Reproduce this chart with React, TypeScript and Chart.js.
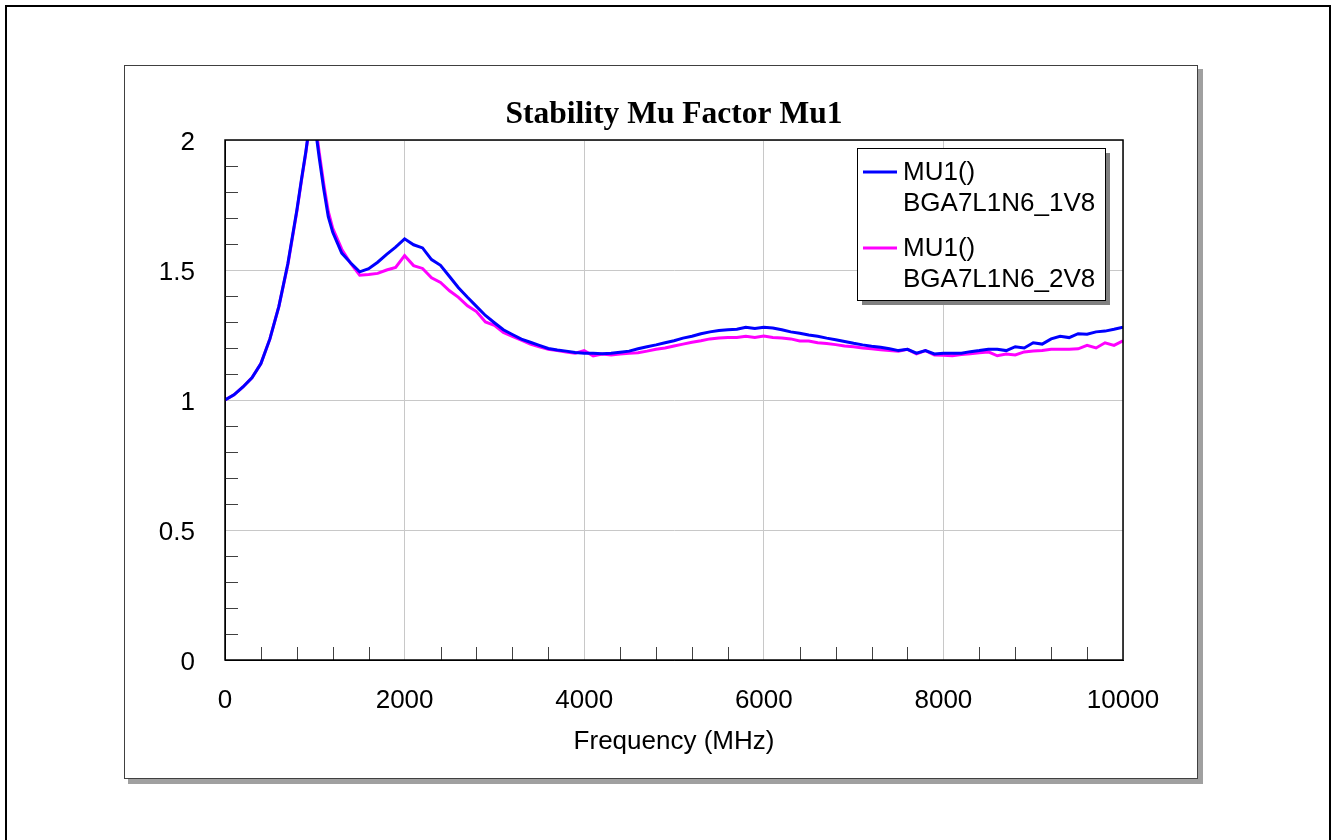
import React, { useEffect, useRef } from "react";
import { Chart, registerables } from "chart.js";

Chart.register(...registerables);

// ---- data ----
const freqMHz = [
  0, 100, 200, 300, 400, 500, 600, 700, 800,
  850, 900, 950, 1000, 1050, 1100, 1150, 1200,
  1300, 1400, 1500, 1600, 1700, 1800, 1900, 2000, 2100, 2200,
  2300, 2400, 2500, 2600, 2700, 2800, 2900, 3000, 3100, 3200,
  3300, 3400, 3500, 3600, 3700, 3800, 3900, 4000, 4100, 4200,
  4300, 4400, 4500, 4600, 4700, 4800, 4900, 5000, 5100, 5200,
  5300, 5400, 5500, 5600, 5700, 5800, 5900, 6000, 6100, 6200,
  6300, 6400, 6500, 6600, 6700, 6800, 6900, 7000, 7100, 7200,
  7300, 7400, 7500, 7600, 7700, 7800, 7900, 8000, 8100, 8200,
  8300, 8400, 8500, 8600, 8700, 8800, 8900, 9000, 9100, 9200,
  9300, 9400, 9500, 9600, 9700, 9800, 9900, 10000,
];

const mu1V8 = [
  1.0, 1.02, 1.05, 1.085, 1.14, 1.235, 1.36, 1.525, 1.73,
  1.845, 1.955, 2.08, 2.06, 1.93, 1.81, 1.705, 1.645,
  1.565, 1.527, 1.493, 1.505, 1.53, 1.56, 1.588, 1.62, 1.597, 1.585,
  1.54, 1.518, 1.475, 1.432, 1.395, 1.36, 1.325, 1.297, 1.27, 1.252,
  1.234, 1.222, 1.21, 1.198, 1.192, 1.188, 1.183, 1.18, 1.18, 1.178,
  1.18, 1.184, 1.188, 1.197, 1.205, 1.212, 1.22, 1.228, 1.238, 1.245,
  1.255, 1.262, 1.267, 1.27, 1.272, 1.28, 1.275, 1.28, 1.277, 1.27,
  1.262, 1.257, 1.25, 1.245, 1.238, 1.232, 1.225, 1.218, 1.212, 1.207,
  1.203, 1.197, 1.19, 1.195, 1.18, 1.19, 1.177, 1.18, 1.18, 1.18,
  1.186, 1.19, 1.195, 1.195, 1.19, 1.205, 1.2, 1.22, 1.215, 1.235,
  1.245, 1.24, 1.255, 1.253, 1.262, 1.265, 1.272, 1.28,
];

const mu2V8 = [
  1.0, 1.02, 1.05, 1.085, 1.14, 1.235, 1.36, 1.52, 1.725,
  1.84, 1.95, 2.08, 2.08, 1.95, 1.83, 1.725, 1.66,
  1.58, 1.525, 1.48, 1.483, 1.487, 1.5, 1.51, 1.555, 1.517, 1.506,
  1.47, 1.452, 1.42, 1.395, 1.362, 1.34, 1.3, 1.287, 1.26, 1.245,
  1.23, 1.215, 1.205, 1.195, 1.19, 1.185, 1.18, 1.19, 1.17, 1.177,
  1.173, 1.177, 1.18, 1.182, 1.188, 1.195, 1.2, 1.208, 1.215, 1.222,
  1.228, 1.235, 1.238, 1.24, 1.24, 1.245, 1.24, 1.246, 1.24, 1.238,
  1.235, 1.227, 1.227, 1.22, 1.217, 1.213, 1.208, 1.205, 1.2, 1.197,
  1.193, 1.19, 1.188, 1.195, 1.177, 1.19, 1.173, 1.172, 1.17, 1.175,
  1.178, 1.182, 1.185, 1.17, 1.177, 1.173, 1.185, 1.188, 1.19, 1.195,
  1.195, 1.195, 1.197, 1.21, 1.2, 1.22, 1.21, 1.228,
];

const seriesNames = [
  ["MU1()", "BGA7L1N6_1V8"],
  ["MU1()", "BGA7L1N6_2V8"],
];
const seriesColors = ["#0000ff", "#ff00ff"];

const chartTitle = "Stability Mu Factor Mu1";
const xAxisTitle = "Frequency (MHz)";
const xMin = 0;
const xMax = 10000;
const xMajorStep = 2000;
const xMinorStep = 400;
const yMin = 0;
const yMax = 2;
const yMajorStep = 0.5;
const yMinorStep = 0.1;

const SANS = '"Liberation Sans", Arial, Helvetica, sans-serif';
const SERIF = '"Liberation Serif", "Times New Roman", serif';
const TEXT_SIZE = 26;

const framePlugin = {
  id: "frames",
  beforeDraw(chart: any) {
    const ctx = chart.ctx;
    ctx.save();
    ctx.fillStyle = "#ffffff";
    ctx.fillRect(0, 0, chart.width, chart.height);
    // outer black frame
    ctx.strokeStyle = "#000000";
    ctx.lineWidth = 2;
    ctx.strokeRect(6, 6, 1324, 860);
    // inner panel shadow
    ctx.fillStyle = "#a0a0a0";
    ctx.fillRect(128, 69, 1075, 715);
    ctx.fillStyle = "#ffffff";
    ctx.fillRect(124, 65, 1074, 714);
    ctx.strokeStyle = "#404040";
    ctx.lineWidth = 1;
    ctx.strokeRect(124.5, 65.5, 1073, 713);
    ctx.restore();
  },
  afterDatasetsDraw(chart: any) {
    const ctx = chart.ctx;
    const { left, right, top, bottom } = chart.chartArea;
    const xs = chart.scales.x;
    const ys = chart.scales.y;
    ctx.save();
    ctx.strokeStyle = "#404040";
    ctx.lineWidth = 1;
    ctx.beginPath();
    const tickLen = 13;
    for (let v = xMin + xMinorStep; v < xMax; v += xMinorStep) {
      if (Math.abs(v % xMajorStep) < 1e-6) continue;
      const px = Math.round(xs.getPixelForValue(v)) + 0.5;
      ctx.moveTo(px, bottom);
      ctx.lineTo(px, bottom - tickLen);
    }
    for (let i = 1; i < Math.round((yMax - yMin) / yMinorStep); i++) {
      const v = yMin + i * yMinorStep;
      if (i % Math.round(yMajorStep / yMinorStep) === 0) continue;
      const py = Math.round(ys.getPixelForValue(v)) + 0.5;
      ctx.moveTo(left, py);
      ctx.lineTo(left + tickLen, py);
    }
    ctx.stroke();
    // plot frame
    ctx.strokeStyle = "#000000";
    ctx.lineWidth = 1.5;
    ctx.strokeRect(Math.round(left), Math.round(top), Math.round(right - left), Math.round(bottom - top));
    ctx.restore();
  },
  afterDraw(chart: any) {
    const ctx = chart.ctx;
    const bx = 857, by = 148, bw = 248, bh = 152;
    ctx.save();
    ctx.fillStyle = "#808080";
    ctx.fillRect(bx + 5, by + 5, bw, bh);
    ctx.fillStyle = "#ffffff";
    ctx.fillRect(bx, by, bw, bh);
    ctx.strokeStyle = "#000000";
    ctx.lineWidth = 1;
    ctx.strokeRect(bx + 0.5, by + 0.5, bw, bh);
    ctx.font = `${TEXT_SIZE}px ${SANS}`;
    ctx.textBaseline = "middle";
    ctx.textAlign = "left";
    chart.data.datasets.forEach((ds: any, i: number) => {
      const y0 = 172 + i * 76;
      ctx.strokeStyle = ds.borderColor;
      ctx.lineWidth = 3;
      ctx.beginPath();
      ctx.moveTo(863, y0);
      ctx.lineTo(897, y0);
      ctx.stroke();
      ctx.fillStyle = "#000000";
      seriesNames[i].forEach((line, j) => {
        ctx.fillText(line, 903, y0 + 1 + j * 31);
      });
    });
    ctx.restore();
  },
};

export default function App() {
  const ref = useRef<HTMLCanvasElement | null>(null);
  useEffect(() => {
    if (!ref.current) return;
    const chart = new Chart(ref.current, {
      type: "line",
      data: {
        datasets: [0, 1].map((i) => ({
          label: seriesNames[i].join(" "),
          data: freqMHz.map((f, k) => ({ x: f, y: (i === 0 ? mu1V8 : mu2V8)[k] })),
          borderColor: seriesColors[i],
          backgroundColor: seriesColors[i],
          borderWidth: 3,
          pointRadius: 0,
          tension: 0,
          fill: false,
        })),
      },
      options: {
        animation: false,
        responsive: false,
        events: [],
        layout: { padding: { left: 0, right: 210, top: 0, bottom: 0 } },
        plugins: {
          legend: { display: false },
          tooltip: { enabled: false },
          title: {
            display: true,
            text: chartTitle,
            fullSize: false,
            color: "#000000",
            font: { family: SERIF, size: 31.5, weight: "bold", lineHeight: 1.2 },
            padding: { top: 96, bottom: 6.2 },
          },
        },
        scales: {
          x: {
            type: "linear",
            min: xMin,
            max: xMax,
            afterFit: (s: any) => { s.height = 180; },
            ticks: {
              stepSize: xMajorStep,
              color: "#000000",
              font: { family: SANS, size: TEXT_SIZE },
              padding: 25,
              maxRotation: 0,
              callback: (v: any) => String(v),
            },
            grid: { color: "#c8c8c8", lineWidth: 1, drawTicks: false },
            border: { color: "#000000", width: 1 },
            title: {
              display: true,
              text: xAxisTitle,
              color: "#000000",
              font: { family: SANS, size: TEXT_SIZE },
              padding: { top: 0, bottom: 83 },
            },
          },
          y: {
            type: "linear",
            min: yMin,
            max: yMax,
            afterFit: (s: any) => { s.width = 225; },
            ticks: {
              stepSize: yMajorStep,
              color: "#000000",
              font: { family: SANS, size: TEXT_SIZE },
              padding: 30,
              labelOffset: 3,
              callback: (v: any) => String(v),
            },
            grid: { color: "#c8c8c8", lineWidth: 1, drawTicks: false },
            border: { color: "#000000", width: 1 },
          },
        },
      },
      plugins: [framePlugin],
    } as any);
    return () => chart.destroy();
  }, []);
  return (
    <div style={{ position: "absolute", left: 0, top: 0, width: 1333, height: 840, background: "#fff" }}>
      <canvas ref={ref} width={1333} height={840} style={{ display: "block" }} />
    </div>
  );
}
